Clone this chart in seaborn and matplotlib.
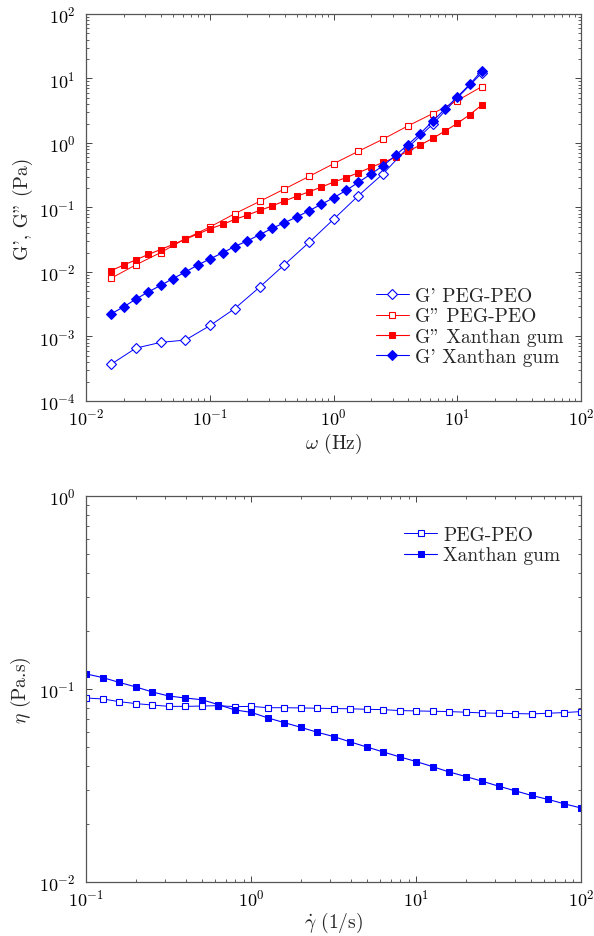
import numpy as np
import pandas as pd
import seaborn as sns
import matplotlib
matplotlib.use("Agg")
import matplotlib.pyplot as plt
from matplotlib.ticker import LogLocator, NullFormatter

# frequency sweep (Hz)
freq_xg = [0.0158, 0.02, 0.0251, 0.0316, 0.0398, 0.0501, 0.0631, 0.0794,
           0.1, 0.126, 0.158, 0.2, 0.251, 0.316, 0.398, 0.501, 0.631, 0.794,
           1.0, 1.26, 1.58, 2.0, 2.51, 3.16, 3.98, 5.01, 6.31, 7.94,
           10.0, 12.6, 15.8]
freq_peg = [0.0158, 0.0251, 0.0398, 0.0631, 0.1, 0.158, 0.251, 0.398,
            0.631, 1.0, 1.58, 2.51, 3.98, 6.31, 10.0, 15.8]

g1_peg = [3.7e-4, 6.6e-4, 8.1e-4, 8.8e-4, 1.48e-3, 2.7e-3, 5.8e-3, 0.0129,
          0.0287, 0.066, 0.152, 0.334, 0.85, 1.95, 5.0, 12.2]
g2_peg = [8.0e-3, 0.0129, 0.020, 0.0327, 0.050, 0.080, 0.124, 0.193,
          0.303, 0.478, 0.743, 1.15, 1.84, 2.85, 4.54, 7.5]
g2_xg = [0.0105, 0.0128, 0.0154, 0.0187, 0.0223, 0.0267, 0.0323, 0.0386,
         0.0468, 0.0546, 0.0653, 0.0762, 0.090, 0.105, 0.126, 0.149,
         0.175, 0.207, 0.248, 0.29, 0.346, 0.419, 0.50, 0.60, 0.74, 0.93,
         1.18, 1.53, 2.02, 2.75, 3.89]
g1_xg = [2.24e-3, 2.88e-3, 3.8e-3, 4.9e-3, 6.2e-3, 7.9e-3, 0.010, 0.0128,
         0.016, 0.0198, 0.0248, 0.0304, 0.0377, 0.0473, 0.058, 0.071,
         0.089, 0.112, 0.142, 0.184, 0.245, 0.33, 0.445, 0.643, 0.94, 1.40,
         2.17, 3.37, 5.2, 8.1, 13.3]

# shear-rate sweep (1/s)
shear = [0.1, 0.126, 0.158, 0.2, 0.251, 0.316, 0.398, 0.501, 0.631, 0.794,
         1.0, 1.26, 1.58, 2.0, 2.51, 3.16, 3.98, 5.01, 6.31, 7.94,
         10.0, 12.6, 15.8, 20.0, 25.1, 31.6, 39.8, 50.1, 63.1, 79.4, 100.0]
eta_peg = [0.0898, 0.0888, 0.086, 0.084, 0.0826, 0.0813, 0.0813, 0.0816,
           0.082, 0.081, 0.0813, 0.080, 0.080, 0.0798, 0.0795, 0.0792,
           0.079, 0.0785, 0.0782, 0.0773, 0.077, 0.0767, 0.0764, 0.0758,
           0.0752, 0.0749, 0.0746, 0.0743, 0.0749, 0.0755, 0.0764]
eta_xg = [0.1196, 0.1145, 0.1082, 0.1024, 0.0965, 0.092, 0.0898, 0.088,
          0.083, 0.0779, 0.0757, 0.0708, 0.067, 0.0633, 0.0597, 0.0567,
          0.0532, 0.0501, 0.0472, 0.0445, 0.0421, 0.0396, 0.0372, 0.0352,
          0.0333, 0.0314, 0.0297, 0.0281, 0.0268, 0.0254, 0.0242]

sns.set_theme(style="ticks")
plt.rcParams["font.family"] = ["cmr10", "DejaVu Serif"]
plt.rcParams["mathtext.fontset"] = "cm"
plt.rcParams["axes.unicode_minus"] = False
plt.rcParams["axes.formatter.use_mathtext"] = True

BLUE = "#0000ff"
RED = "#ff0000"

fig = plt.figure(figsize=(5.94, 9.37), dpi=100)
ax1 = fig.add_axes([0.1456, 0.5710, 0.8325, 0.4130])
ax2 = fig.add_axes([0.1456, 0.0576, 0.8325, 0.4120])

sns.lineplot(x=freq_peg, y=g1_peg, ax=ax1, color=BLUE, lw=0.7, marker="D",
             ms=5, mfc="white", mec=BLUE, mew=0.8, label="G' PEG-PEO")
sns.lineplot(x=freq_peg, y=g2_peg, ax=ax1, color=RED, lw=0.7, marker="s",
             ms=5, mfc="white", mec=RED, mew=0.8, label='G" PEG-PEO')
sns.lineplot(x=freq_xg, y=g2_xg, ax=ax1, color=RED, lw=0.8, marker="s",
             ms=5, mfc=RED, mec=RED, label='G" Xanthan gum')
sns.lineplot(x=freq_xg, y=g1_xg, ax=ax1, color=BLUE, lw=0.8, marker="D",
             ms=5.5, mfc=BLUE, mec=BLUE, label="G' Xanthan gum")

sns.lineplot(x=shear, y=eta_peg, ax=ax2, color=BLUE, lw=0.7, marker="s",
             ms=4, mfc="white", mec=BLUE, mew=0.8, label="PEG-PEO")
sns.lineplot(x=shear, y=eta_xg, ax=ax2, color=BLUE, lw=0.8, marker="s",
             ms=4, mfc=BLUE, mec=BLUE, label="Xanthan gum")

for ax in (ax1, ax2):
    ax.set_xscale("log")
    ax.set_yscale("log")
    ax.tick_params(which="both", direction="in", top=True, right=True,
                   colors="#444444", labelcolor="black", labelsize=13)
    ax.tick_params(which="major", length=4.5, width=0.7)
    ax.tick_params(which="minor", length=2.5, width=0.6)
    ax.tick_params(axis="x", which="major", pad=4)
    ax.tick_params(axis="y", which="major", pad=8)
    ax.xaxis.set_minor_locator(LogLocator(base=10, subs=np.arange(2, 10), numticks=20))
    ax.yaxis.set_minor_locator(LogLocator(base=10, subs=np.arange(2, 10), numticks=20))
    ax.xaxis.set_minor_formatter(NullFormatter())
    ax.yaxis.set_minor_formatter(NullFormatter())
    for s in ax.spines.values():
        s.set_color("#555555")
        s.set_linewidth(0.9)

leg_kw = dict(frameon=False, fontsize=14, handlelength=1.7, handletextpad=0.3,
              labelspacing=0.12, borderpad=0, borderaxespad=0)

ax1.set_xlim(1e-2, 1e2)
ax1.set_ylim(1e-4, 1e2)
ax1.set_xticks([1e-2, 1e-1, 1e0, 1e1, 1e2])
ax1.set_yticks([1e-4, 1e-3, 1e-2, 1e-1, 1e0, 1e1, 1e2])
ax1.set_xlabel(r"$\omega$ (Hz)", fontsize=14, labelpad=3)
ax1.set_ylabel("G', G\" (Pa)", fontsize=14, labelpad=4)
ax1.legend(loc="lower right", bbox_to_anchor=(0.964, 0.09), **leg_kw)

ax2.set_xlim(1e-1, 1e2)
ax2.set_ylim(1e-2, 1e0)
ax2.set_xticks([1e-1, 1e0, 1e1, 1e2])
ax2.set_yticks([1e-2, 1e-1, 1e0])
ax2.set_xlabel(r"$\dot{\gamma}$ (1/s)", fontsize=14, labelpad=1)
ax2.set_ylabel(r"$\eta$ (Pa.s)", fontsize=14, labelpad=4)
ax2.legend(loc="upper right", bbox_to_anchor=(0.958, 0.922), **leg_kw)

fig.savefig("out.png", dpi=100)
